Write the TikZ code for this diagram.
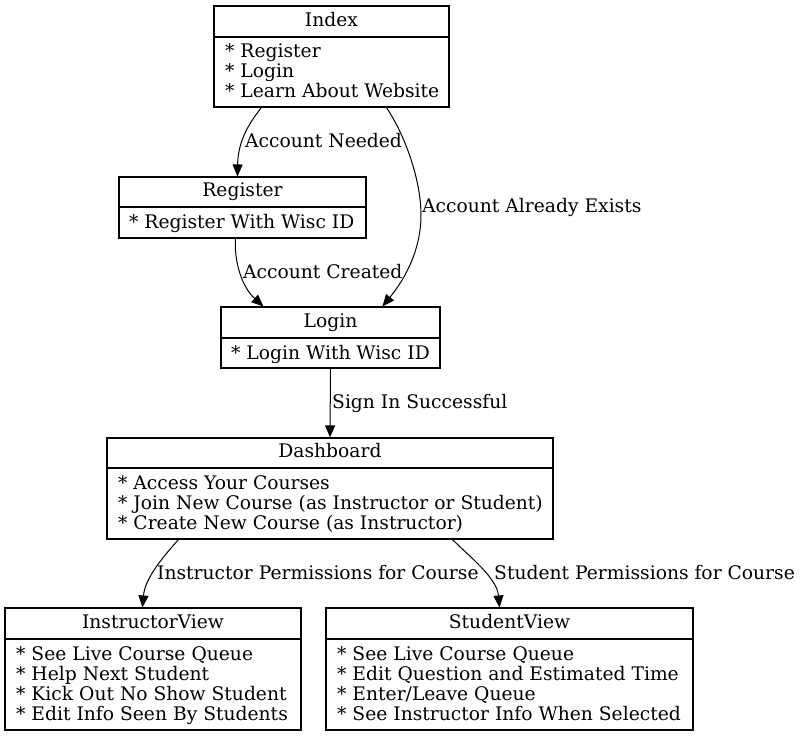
\documentclass[tikz,border=0pt]{standalone}
\usepackage{fontspec}
\setmainfont{DejaVu Serif}
\usetikzlibrary{arrows.meta,calc}
\tikzset{
  box/.style={draw=black, line width=1.1pt, rectangle, inner sep=0pt, minimum width=#1},
  ttl/.style={anchor=base, inner sep=0pt, font=\fontsize{18.7}{20}\selectfont},
  itm/.style={anchor=base west, inner sep=0pt, font=\fontsize{18.7}{20}\selectfont},
  lbl/.style={anchor=base west, inner sep=0pt, font=\fontsize{18.7}{20}\selectfont},
  edge/.style={draw, line width=1pt, -{Triangle[length=12pt,width=10pt]}},
  divider/.style={draw, line width=1.1pt}
}
\begin{document}
\begin{tikzpicture}[x=1pt,y=-1pt]
\useasboundingbox (0,0) rectangle (801,736);
% boxes
\node[box=235pt, minimum height=101pt] (idx) at (331.5,56.5) {};
\node[box=247pt, minimum height=61pt] (reg) at (242.5,207.5) {};
\node[box=219pt, minimum height=61pt] (log) at (330.5,337.5) {};
\node[box=446pt, minimum height=101pt] (dash) at (330,488.5) {};
\node[box=296pt, minimum height=122pt] (iv) at (153,669) {};
\node[box=367pt, minimum height=122pt] (sv) at (509.5,669) {};
% dividers
\draw[divider] (idx.west |- 0,37) -- (idx.east |- 0,37);
\draw[divider] (reg.west |- 0,207) -- (reg.east |- 0,207);
\draw[divider] (log.west |- 0,338) -- (log.east |- 0,338);
\draw[divider] (dash.west |- 0,468) -- (dash.east |- 0,468);
\draw[divider] (iv.west |- 0,639) -- (iv.east |- 0,639);
\draw[divider] (sv.west |- 0,639) -- (sv.east |- 0,639);
% titles
\node[ttl] (tidx) at (331.5,26.5) {Index};
\node[ttl] (treg) at (242.5,196.5) {Register};
\node[ttl] (tlog) at (330.5,327.5) {Login};
\node[ttl] (tdash) at (330,457.5) {Dashboard};
\node[ttl] (tiv) at (153,628.5) {InstructorView};
\node[ttl] (tsv) at (509.5,628.5) {StudentView};
% items
\node[itm] (i1) at (225,57) {* Register};
\node[itm] (i2) at (225,77) {* Login};
\node[itm] (i3) at (225,97) {* Learn About Website};
\node[itm] (r1) at (129,228) {* Register With Wisc ID};
\node[itm] (l1) at (231,359) {* Login With Wisc ID};
\node[itm] (d1) at (118,489) {* Access Your Courses};
\node[itm] (d2) at (118,509) {* Join New Course (as Instructor or Student)};
\node[itm] (d3) at (118,529) {* Create New Course (as Instructor)};
\node[itm] (v1) at (16,660) {* See Live Course Queue};
\node[itm] (v2) at (16,680) {* Help Next Student};
\node[itm] (v3) at (16,700) {* Kick Out No Show Student};
\node[itm] (v4) at (16,720) {* Edit Info Seen By Students};
\node[itm] (s1) at (337,660) {* See Live Course Queue};
\node[itm] (s2) at (337,680) {* Edit Question and Estimated Time};
\node[itm] (s3) at (337,700) {* Enter/Leave Queue};
\node[itm] (s4) at (337,720) {* See Instructor Info When Selected};
% edges
\draw[edge] ([xshift=48pt]idx.south west) .. controls (250,122) and (238,140) .. ([xshift=119pt]reg.north west);
\draw[edge] ([xshift=173pt]idx.south west) .. controls (405,135) and (421,180) .. (421,215) .. controls (421,255) and (400,285) .. ([xshift=162pt]log.north west);
\draw[edge] ([xshift=117pt]reg.south west) .. controls (234,262) and (242,287) .. ([xshift=43pt]log.north west);
\draw[edge] (log.south) -- (dash.north);
\draw[edge] ([xshift=72pt]dash.south west) .. controls (163,557) and (145,578) .. ([xshift=138pt]iv.north west);
\draw[edge] ([xshift=346pt]dash.south west) .. controls (470,557) and (497,578) .. ([xshift=174pt]sv.north west);
% labels
\node[lbl] (e1) at (245,147) {Account Needed};
\node[lbl] (e2) at (422,212) {Account Already Exists};
\node[lbl] (e3) at (243,278) {Account Created};
\node[lbl] (e4) at (332,408) {Sign In Successful};
\node[lbl] (e5) at (157,579) {Instructor Permissions for Course};
\node[lbl] (e6) at (494,579) {Student Permissions for Course};
\end{tikzpicture}
\end{document}
